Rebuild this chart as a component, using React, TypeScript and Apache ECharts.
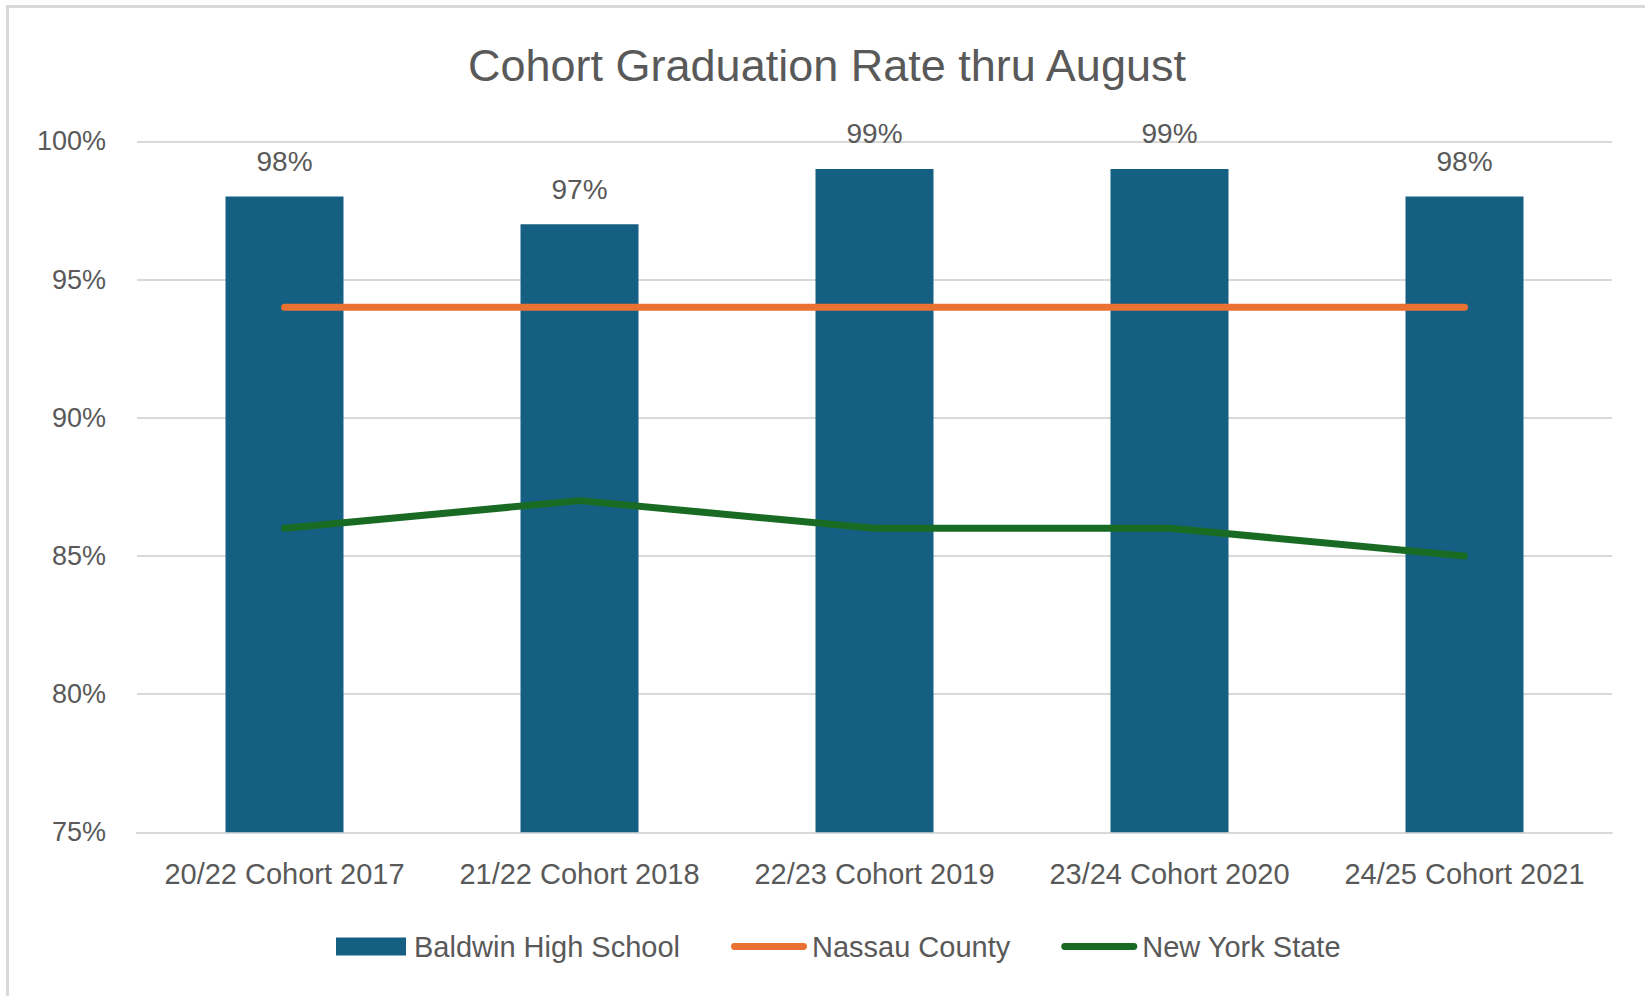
import React, { useEffect, useRef } from "react";
import * as echarts from "echarts";

const categories = [
  "20/22 Cohort 2017",
  "21/22 Cohort 2018",
  "22/23 Cohort 2019",
  "23/24 Cohort 2020",
  "24/25 Cohort 2021",
];
const baldwin = [98, 97, 99, 99, 98];
const nassau = [94, 94, 94, 94, 94];
const nys = [86, 87, 86, 86, 85];
const yTicks = { min: 75, max: 100, interval: 5 };

const FONT = "'Liberation Sans', Arial, sans-serif";
const TEXT = "#595959";
const GRID = "#D9D9D9";
const RECT_ICON = "path://M0,0 H70 V18 H0 Z";
const LINE_ICON =
  "path://M3.5,0 H73.5 A3.5,3.5 0 0 1 73.5,7 H3.5 A3.5,3.5 0 0 1 3.5,0 Z";

export default function App() {
  const ref = useRef<HTMLDivElement>(null);
  useEffect(() => {
    if (!ref.current) return;
    const chart = echarts.init(ref.current, undefined, { renderer: "svg" });
    chart.setOption({
      animation: false,
      backgroundColor: "#FFFFFF",
      textStyle: { fontFamily: FONT },
      title: {
        text: "Cohort Graduation Rate thru August",
        left: 468,
        top: 43,
        padding: 0,
        textStyle: { fontFamily: FONT, fontSize: 45, fontWeight: "normal", color: TEXT },
      },
      graphic: [
        {
          type: "rect",
          z: -10,
          shape: { x: 7.5, y: 6.5, width: 1700, height: 1100 },
          style: { fill: "none", stroke: GRID, lineWidth: 3 },
        },
      ],
      grid: { left: 137, right: 33, top: 141.3, bottom: 163.7, containLabel: false },
      legend: {
        left: 331,
        top: 927,
        itemWidth: 76,
        itemHeight: 18,
        itemGap: 51,
        symbolKeepAspect: true,
        textStyle: { fontFamily: FONT, fontSize: 29, color: TEXT },
        data: [
          { name: "Baldwin High School", icon: RECT_ICON },
          { name: "Nassau County", icon: LINE_ICON },
          { name: "New York State", icon: LINE_ICON },
        ],
      },
      xAxis: {
        type: "category",
        data: categories,
        axisTick: { show: false },
        axisLine: { lineStyle: { color: GRID, width: 2 } },
        axisLabel: { fontFamily: FONT, fontSize: 29, color: TEXT, margin: 27, interval: 0 },
      },
      yAxis: {
        type: "value",
        min: yTicks.min,
        max: yTicks.max,
        interval: yTicks.interval,
        axisLine: { show: false },
        axisTick: { show: false },
        splitLine: { lineStyle: { color: GRID, width: 2 } },
        axisLabel: {
          fontFamily: FONT,
          fontSize: 27,
          color: TEXT,
          margin: 31,
          formatter: "{value}%",
        },
      },
      series: [
        {
          name: "Baldwin High School",
          type: "bar",
          data: baldwin,
          barWidth: "40%",
          itemStyle: { color: "#156082" },
          label: {
            show: true,
            position: "top",
            distance: 21,
            fontFamily: FONT,
            fontSize: 28,
            color: TEXT,
            formatter: "{c}%",
          },
          z: 1,
        },
        {
          name: "Nassau County",
          type: "line",
          data: nassau,
          symbol: "none",
          itemStyle: { color: "#E97132" },
          lineStyle: { color: "#E97132", width: 7, cap: "round", join: "round" },
          z: 3,
        },
        {
          name: "New York State",
          type: "line",
          data: nys,
          symbol: "none",
          itemStyle: { color: "#196B24" },
          lineStyle: { color: "#196B24", width: 7, cap: "round", join: "round" },
          z: 3,
        },
      ],
    });
    return () => chart.dispose();
  }, []);
  return (
    <div
      ref={ref}
      style={{ position: "absolute", left: 0, top: 0, width: 1645, height: 996 }}
    />
  );
}
